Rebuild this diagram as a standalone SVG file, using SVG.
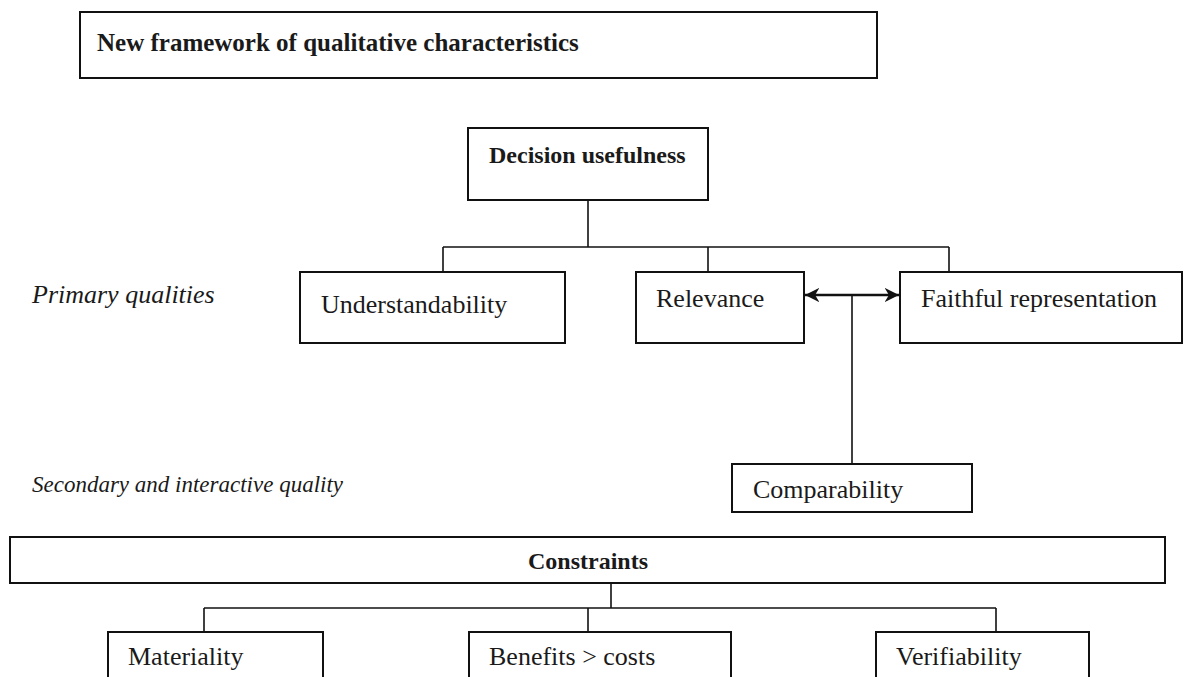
<svg xmlns="http://www.w3.org/2000/svg" width="1186" height="677" viewBox="0 0 1186 677">
  <defs>
    <style>
      .box { fill: #ffffff; stroke: #111111; stroke-width: 2; }
      .line { fill: none; stroke: #111111; stroke-width: 1.6; }
      .t { font-family: "Liberation Serif", "Times New Roman", serif; fill: #1a1a1a; font-size: 26px; }
      .b { font-weight: bold; font-size: 24px; }
      .i { font-style: italic; font-size: 24px; }
    </style>
    <marker id="arrow" viewBox="0 0 10 10" refX="10" refY="5" markerWidth="6" markerHeight="6" orient="auto-start-reverse" markerUnits="strokeWidth">
      <path d="M0,0 L10,5 L0,10 L3,5 Z" fill="#111111"/>
    </marker>
  </defs>
  <rect width="1186" height="677" fill="#ffffff"/>

  <g id="title">
    <rect class="box" x="80" y="12" width="797" height="66"/>
    <text class="t b" x="97" y="51" style="font-size:25px">New framework of qualitative characteristics</text>
  </g>

  <g id="label-primary">
    <text class="t i" x="32" y="303" style="font-size:26px">Primary qualities</text>
  </g>
  <g id="label-secondary">
    <text class="t i" x="32" y="492" style="font-size:23px">Secondary and interactive quality</text>
  </g>

  <g id="connectors">
    <line class="line" x1="588" y1="200" x2="588" y2="247"/>
    <line class="line" x1="443" y1="247" x2="949" y2="247"/>
    <line class="line" x1="443" y1="247" x2="443" y2="272"/>
    <line class="line" x1="708" y1="247" x2="708" y2="272"/>
    <line class="line" x1="949" y1="247" x2="949" y2="272"/>
    <line class="line" x1="805" y1="295" x2="899" y2="295" style="stroke-width:2.4" marker-start="url(#arrow)" marker-end="url(#arrow)"/>
    <line class="line" x1="852" y1="295" x2="852" y2="464"/>
    <line class="line" x1="611" y1="583" x2="611" y2="608"/>
    <line class="line" x1="204" y1="608" x2="996" y2="608"/>
    <line class="line" x1="204" y1="608" x2="204" y2="632"/>
    <line class="line" x1="588" y1="608" x2="588" y2="632"/>
    <line class="line" x1="996" y1="608" x2="996" y2="632"/>
  </g>

  <g id="decision-usefulness">
    <rect class="box" x="468" y="128" width="240" height="72"/>
    <text class="t b" x="489" y="163">Decision usefulness</text>
  </g>

  <g id="understandability">
    <rect class="box" x="300" y="272" width="265" height="71"/>
    <text class="t" x="321" y="313">Understandability</text>
  </g>

  <g id="relevance">
    <rect class="box" x="636" y="272" width="168" height="71"/>
    <text class="t" x="656" y="307">Relevance</text>
  </g>

  <g id="faithful-representation">
    <rect class="box" x="900" y="272" width="282" height="71"/>
    <text class="t" x="921" y="307">Faithful representation</text>
  </g>

  <g id="comparability">
    <rect class="box" x="732" y="464" width="240" height="48"/>
    <text class="t" x="753" y="498">Comparability</text>
  </g>

  <g id="constraints">
    <rect class="box" x="10" y="537" width="1155" height="46"/>
    <text class="t b" x="588" y="569" text-anchor="middle">Constraints</text>
  </g>

  <g id="materiality">
    <rect class="box" x="108" y="632" width="215" height="60"/>
    <text class="t" x="128" y="665">Materiality</text>
  </g>

  <g id="benefits-costs">
    <rect class="box" x="469" y="632" width="262" height="60"/>
    <text class="t" x="489" y="665">Benefits &gt; costs</text>
  </g>

  <g id="verifiability">
    <rect class="box" x="876" y="632" width="213" height="60"/>
    <text class="t" x="896" y="665">Verifiability</text>
  </g>
</svg>
